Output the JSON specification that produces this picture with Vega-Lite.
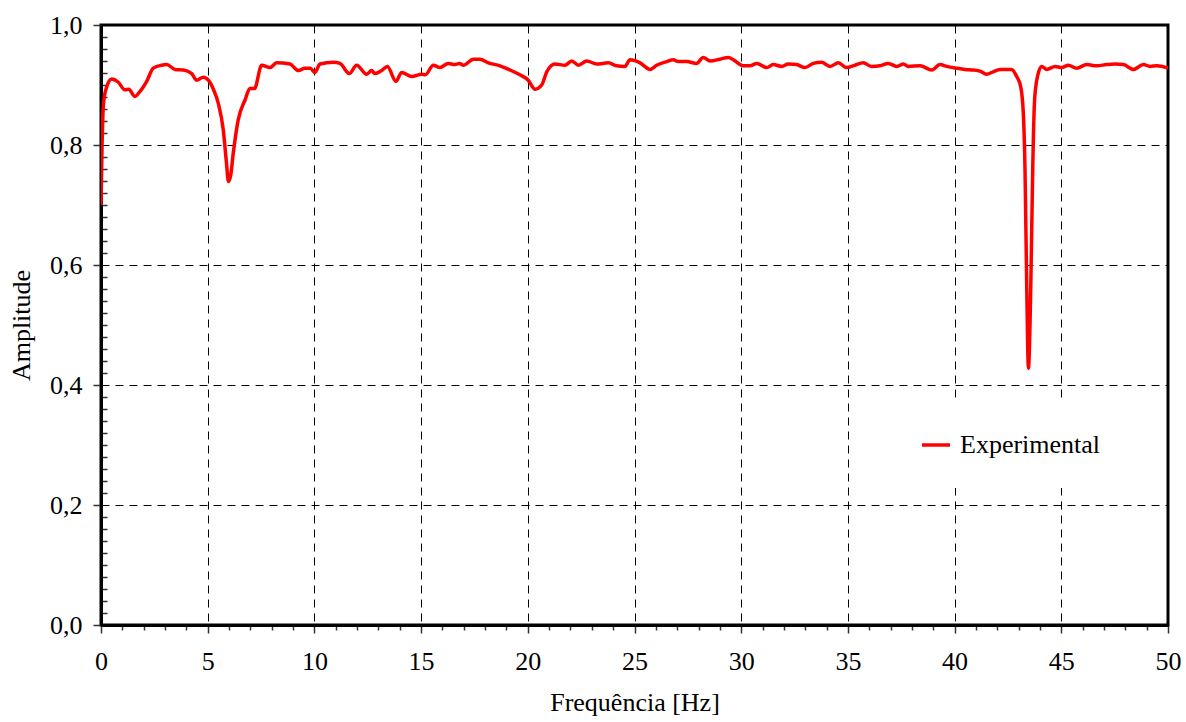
{
  "$schema": "https://vega.github.io/schema/vega-lite/v6.json",
  "width": 1067,
  "height": 600,
  "autosize": {"type": "none"},
  "padding": {"left": 101, "top": 25, "right": 18, "bottom": 97},
  "background": "white",
  "config": {
    "font": "Liberation Serif",
    "view": {"stroke": "black", "strokeWidth": 3},
    "axis": {"labelFont": "Liberation Serif", "titleFont": "Liberation Serif", "labelColor": "black", "titleColor": "black", "titleFontWeight": "normal", "labelFontSize": 26, "titleFontSize": 26}
  },
  "data": {"values": [
    {"f": 0, "a": 0.70, "s": "Experimental"},
    {"f": 0.05, "a": 0.80, "s": "Experimental"},
    {"f": 0.12, "a": 0.87, "s": "Experimental"},
    {"f": 0.25, "a": 0.895, "s": "Experimental"},
    {"f": 0.5, "a": 0.91, "s": "Experimental"},
    {"f": 0.8, "a": 0.905, "s": "Experimental"},
    {"f": 1.12, "a": 0.892, "s": "Experimental"},
    {"f": 1.3, "a": 0.893, "s": "Experimental"},
    {"f": 1.59, "a": 0.881, "s": "Experimental"},
    {"f": 1.8, "a": 0.888, "s": "Experimental"},
    {"f": 2.14, "a": 0.906, "s": "Experimental"},
    {"f": 2.45, "a": 0.928, "s": "Experimental"},
    {"f": 2.84, "a": 0.933, "s": "Experimental"},
    {"f": 3.08, "a": 0.934, "s": "Experimental"},
    {"f": 3.47, "a": 0.926, "s": "Experimental"},
    {"f": 3.86, "a": 0.925, "s": "Experimental"},
    {"f": 4.25, "a": 0.919, "s": "Experimental"},
    {"f": 4.48, "a": 0.908, "s": "Experimental"},
    {"f": 4.79, "a": 0.913, "s": "Experimental"},
    {"f": 5.03, "a": 0.908, "s": "Experimental"},
    {"f": 5.3, "a": 0.89, "s": "Experimental"},
    {"f": 5.5, "a": 0.869, "s": "Experimental"},
    {"f": 5.73, "a": 0.825, "s": "Experimental"},
    {"f": 5.88, "a": 0.77, "s": "Experimental"},
    {"f": 5.97, "a": 0.739, "s": "Experimental"},
    {"f": 6.08, "a": 0.75, "s": "Experimental"},
    {"f": 6.2, "a": 0.787, "s": "Experimental"},
    {"f": 6.43, "a": 0.842, "s": "Experimental"},
    {"f": 6.75, "a": 0.875, "s": "Experimental"},
    {"f": 6.98, "a": 0.894, "s": "Experimental"},
    {"f": 7.19, "a": 0.894, "s": "Experimental"},
    {"f": 7.53, "a": 0.933, "s": "Experimental"},
    {"f": 7.92, "a": 0.929, "s": "Experimental"},
    {"f": 8.23, "a": 0.937, "s": "Experimental"},
    {"f": 8.86, "a": 0.935, "s": "Experimental"},
    {"f": 9.25, "a": 0.924, "s": "Experimental"},
    {"f": 9.56, "a": 0.928, "s": "Experimental"},
    {"f": 9.8, "a": 0.928, "s": "Experimental"},
    {"f": 10.03, "a": 0.921, "s": "Experimental"},
    {"f": 10.26, "a": 0.935, "s": "Experimental"},
    {"f": 10.89, "a": 0.938, "s": "Experimental"},
    {"f": 11.2, "a": 0.936, "s": "Experimental"},
    {"f": 11.64, "a": 0.919, "s": "Experimental"},
    {"f": 11.98, "a": 0.933, "s": "Experimental"},
    {"f": 12.45, "a": 0.918, "s": "Experimental"},
    {"f": 12.68, "a": 0.924, "s": "Experimental"},
    {"f": 12.84, "a": 0.919, "s": "Experimental"},
    {"f": 13.15, "a": 0.924, "s": "Experimental"},
    {"f": 13.42, "a": 0.931, "s": "Experimental"},
    {"f": 13.82, "a": 0.906, "s": "Experimental"},
    {"f": 14.09, "a": 0.921, "s": "Experimental"},
    {"f": 14.56, "a": 0.914, "s": "Experimental"},
    {"f": 15.03, "a": 0.918, "s": "Experimental"},
    {"f": 15.2, "a": 0.917, "s": "Experimental"},
    {"f": 15.57, "a": 0.933, "s": "Experimental"},
    {"f": 15.88, "a": 0.929, "s": "Experimental"},
    {"f": 16.27, "a": 0.936, "s": "Experimental"},
    {"f": 16.59, "a": 0.934, "s": "Experimental"},
    {"f": 16.79, "a": 0.936, "s": "Experimental"},
    {"f": 16.98, "a": 0.933, "s": "Experimental"},
    {"f": 17.45, "a": 0.943, "s": "Experimental"},
    {"f": 17.76, "a": 0.943, "s": "Experimental"},
    {"f": 18.15, "a": 0.937, "s": "Experimental"},
    {"f": 18.7, "a": 0.932, "s": "Experimental"},
    {"f": 19.17, "a": 0.925, "s": "Experimental"},
    {"f": 19.63, "a": 0.917, "s": "Experimental"},
    {"f": 20.02, "a": 0.908, "s": "Experimental"},
    {"f": 20.34, "a": 0.893, "s": "Experimental"},
    {"f": 20.65, "a": 0.9, "s": "Experimental"},
    {"f": 20.89, "a": 0.922, "s": "Experimental"},
    {"f": 21.27, "a": 0.935, "s": "Experimental"},
    {"f": 21.74, "a": 0.933, "s": "Experimental"},
    {"f": 22.06, "a": 0.94, "s": "Experimental"},
    {"f": 22.37, "a": 0.933, "s": "Experimental"},
    {"f": 22.76, "a": 0.94, "s": "Experimental"},
    {"f": 23.23, "a": 0.935, "s": "Experimental"},
    {"f": 23.77, "a": 0.937, "s": "Experimental"},
    {"f": 24.16, "a": 0.932, "s": "Experimental"},
    {"f": 24.55, "a": 0.931, "s": "Experimental"},
    {"f": 24.79, "a": 0.942, "s": "Experimental"},
    {"f": 25.26, "a": 0.937, "s": "Experimental"},
    {"f": 25.73, "a": 0.926, "s": "Experimental"},
    {"f": 26.04, "a": 0.933, "s": "Experimental"},
    {"f": 26.51, "a": 0.939, "s": "Experimental"},
    {"f": 26.82, "a": 0.942, "s": "Experimental"},
    {"f": 27.05, "a": 0.939, "s": "Experimental"},
    {"f": 27.45, "a": 0.939, "s": "Experimental"},
    {"f": 27.91, "a": 0.936, "s": "Experimental"},
    {"f": 28.22, "a": 0.946, "s": "Experimental"},
    {"f": 28.54, "a": 0.94, "s": "Experimental"},
    {"f": 29.0, "a": 0.943, "s": "Experimental"},
    {"f": 29.4, "a": 0.946, "s": "Experimental"},
    {"f": 29.63, "a": 0.942, "s": "Experimental"},
    {"f": 30.1, "a": 0.932, "s": "Experimental"},
    {"f": 30.41, "a": 0.932, "s": "Experimental"},
    {"f": 30.73, "a": 0.936, "s": "Experimental"},
    {"f": 31.2, "a": 0.929, "s": "Experimental"},
    {"f": 31.5, "a": 0.934, "s": "Experimental"},
    {"f": 31.9, "a": 0.931, "s": "Experimental"},
    {"f": 32.2, "a": 0.935, "s": "Experimental"},
    {"f": 32.6, "a": 0.934, "s": "Experimental"},
    {"f": 32.99, "a": 0.929, "s": "Experimental"},
    {"f": 33.38, "a": 0.936, "s": "Experimental"},
    {"f": 33.77, "a": 0.938, "s": "Experimental"},
    {"f": 34.16, "a": 0.931, "s": "Experimental"},
    {"f": 34.55, "a": 0.937, "s": "Experimental"},
    {"f": 34.94, "a": 0.929, "s": "Experimental"},
    {"f": 35.33, "a": 0.933, "s": "Experimental"},
    {"f": 35.72, "a": 0.937, "s": "Experimental"},
    {"f": 36.11, "a": 0.931, "s": "Experimental"},
    {"f": 36.5, "a": 0.932, "s": "Experimental"},
    {"f": 36.89, "a": 0.936, "s": "Experimental"},
    {"f": 37.29, "a": 0.931, "s": "Experimental"},
    {"f": 37.6, "a": 0.935, "s": "Experimental"},
    {"f": 37.83, "a": 0.931, "s": "Experimental"},
    {"f": 38.38, "a": 0.932, "s": "Experimental"},
    {"f": 38.93, "a": 0.925, "s": "Experimental"},
    {"f": 39.32, "a": 0.934, "s": "Experimental"},
    {"f": 39.63, "a": 0.931, "s": "Experimental"},
    {"f": 40.1, "a": 0.928, "s": "Experimental"},
    {"f": 40.49, "a": 0.926, "s": "Experimental"},
    {"f": 40.88, "a": 0.925, "s": "Experimental"},
    {"f": 41.19, "a": 0.923, "s": "Experimental"},
    {"f": 41.5, "a": 0.918, "s": "Experimental"},
    {"f": 41.81, "a": 0.922, "s": "Experimental"},
    {"f": 42.13, "a": 0.926, "s": "Experimental"},
    {"f": 42.67, "a": 0.926, "s": "Experimental"},
    {"f": 42.91, "a": 0.914, "s": "Experimental"},
    {"f": 43.1, "a": 0.897, "s": "Experimental"},
    {"f": 43.22, "a": 0.853, "s": "Experimental"},
    {"f": 43.3, "a": 0.758, "s": "Experimental"},
    {"f": 43.38, "a": 0.564, "s": "Experimental"},
    {"f": 43.46, "a": 0.428, "s": "Experimental"},
    {"f": 43.57, "a": 0.564, "s": "Experimental"},
    {"f": 43.66, "a": 0.758, "s": "Experimental"},
    {"f": 43.74, "a": 0.869, "s": "Experimental"},
    {"f": 43.85, "a": 0.908, "s": "Experimental"},
    {"f": 44.08, "a": 0.931, "s": "Experimental"},
    {"f": 44.32, "a": 0.926, "s": "Experimental"},
    {"f": 44.71, "a": 0.931, "s": "Experimental"},
    {"f": 45.02, "a": 0.929, "s": "Experimental"},
    {"f": 45.33, "a": 0.933, "s": "Experimental"},
    {"f": 45.72, "a": 0.928, "s": "Experimental"},
    {"f": 46.19, "a": 0.934, "s": "Experimental"},
    {"f": 46.66, "a": 0.932, "s": "Experimental"},
    {"f": 47.13, "a": 0.934, "s": "Experimental"},
    {"f": 47.52, "a": 0.935, "s": "Experimental"},
    {"f": 47.91, "a": 0.934, "s": "Experimental"},
    {"f": 48.38, "a": 0.926, "s": "Experimental"},
    {"f": 48.85, "a": 0.934, "s": "Experimental"},
    {"f": 49.16, "a": 0.931, "s": "Experimental"},
    {"f": 49.48, "a": 0.932, "s": "Experimental"},
    {"f": 50, "a": 0.928, "s": "Experimental"}
  ]},
  "mark": {"type": "line", "interpolate": "monotone", "strokeWidth": 3.5, "clip": true},
  "encoding": {
    "x": {
      "field": "f", "type": "quantitative",
      "scale": {"domain": [0, 50], "nice": false, "zero": false},
      "axis": {
        "title": "Frequência [Hz]",
        "values": [0,1,2,3,4,5,6,7,8,9,10,11,12,13,14,15,16,17,18,19,20,21,22,23,24,25,26,27,28,29,30,31,32,33,34,35,36,37,38,39,40,41,42,43,44,45,46,47,48,49,50],
        "labelExpr": "datum.value % 5 == 0 ? datum.label : ''",
        "labelPadding": 15,
        "labelFlush": false,
        "labelOverlap": false,
        "titlePadding": 15,
        "domainColor": "black", "domainWidth": 3,
        "tickColor": "#333",
        "tickWidth": 1.5,
        "tickSize": {"condition": {"test": "datum.value % 5 == 0", "value": 8}, "value": 5},
        "grid": true,
        "gridColor": "black",
        "gridWidth": 1,
        "gridDash": [8, 6],
        "gridOpacity": {"condition": {"test": "datum.value % 5 == 0 && datum.value > 0 && datum.value < 50", "value": 1}, "value": 0}
      }
    },
    "y": {
      "field": "a", "type": "quantitative",
      "scale": {"domain": [0, 1], "nice": false, "zero": false},
      "axis": {
        "title": "Amplitude",
        "values": [0,0.02,0.04,0.06,0.08,0.1,0.12,0.14,0.16,0.18,0.2,0.22,0.24,0.26,0.28,0.3,0.32,0.34,0.36,0.38,0.4,0.42,0.44,0.46,0.48,0.5,0.52,0.54,0.56,0.58,0.6,0.62,0.64,0.66,0.68,0.7,0.72,0.74,0.76,0.78,0.8,0.82,0.84,0.86,0.88,0.9,0.92,0.94,0.96,0.98,1],
        "labelExpr": "abs(datum.value*5 - round(datum.value*5)) < 0.001 ? replace(format(datum.value, '.1f'), '.', ',') : ''",
        "labelPadding": 11,
        "labelFlush": false,
        "labelOverlap": false,
        "titlePadding": 15,
        "domainColor": "black", "domainWidth": 3,
        "tickColor": "#333",
        "tickWidth": 1.5,
        "tickSize": {"condition": {"test": "abs(datum.value*5 - round(datum.value*5)) < 0.001", "value": 8}, "value": -6},
        "grid": true,
        "gridColor": "black",
        "gridWidth": 1,
        "gridDash": [8, 6],
        "gridOpacity": {"condition": {"test": "abs(datum.value*5 - round(datum.value*5)) < 0.001 && datum.value > 0.01 && datum.value < 0.99", "value": 1}, "value": 0}
      }
    },
    "color": {
      "field": "s", "type": "nominal",
      "scale": {"range": ["#ff0000"]},
      "legend": {
        "title": null,
        "orient": "none",
        "legendX": 789,
        "legendY": 374,
        "padding": 30,
        "fillColor": "white",
        "labelFont": "Liberation Serif",
        "labelFontSize": 26,
        "labelColor": "black",
        "labelOffset": 8,
        "symbolType": "stroke",
        "symbolStrokeWidth": 3.5,
        "symbolSize": 784
      }
    }
  }
}
